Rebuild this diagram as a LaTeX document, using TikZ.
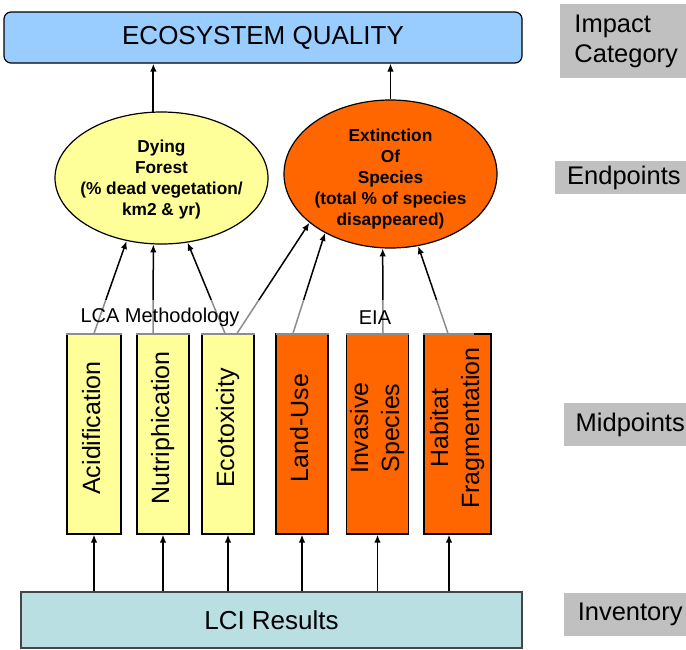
\documentclass[tikz,border=0pt]{standalone}
\usepackage{fontspec}
\setmainfont{Liberation Sans}
\usepackage{graphicx}
\usetikzlibrary{shapes.geometric,arrows.meta}

\definecolor{qualityblue}{RGB}{153,204,255}
\definecolor{paleyellow}{RGB}{255,255,153}
\definecolor{deeporange}{RGB}{255,102,0}
\definecolor{lcicyan}{RGB}{185,223,227}
\definecolor{lciedge}{RGB}{70,70,70}
\definecolor{tiergray}{RGB}{192,192,192}

\newcommand{\uptext}[1]{\rotatebox{90}{\hspace{12pt}\begin{tabular}{@{}c@{}}#1\end{tabular}}}

\begin{document}
\begin{tikzpicture}[x=1pt,y=-1pt,>={Latex[length=8pt,width=6.5pt]},
  every node/.style={inner sep=0pt},
  catbox/.style={draw,line width=1.2pt,rounded corners=7pt,fill=qualityblue,
    minimum width=518pt,minimum height=51pt,font=\fontsize{26}{30}\selectfont},
  endbubble/.style={ellipse,draw,line width=1.2pt,minimum width=213pt},
  endtext/.style={align=center,font=\fontsize{17.3}{21}\selectfont\bfseries},
  midbar/.style={draw,line width=1.2pt,minimum height=200pt,
    font=\fontsize{25}{31}\selectfont},
  stage/.style={fill=white,fill opacity=.55,text opacity=1,minimum height=35pt,
    font=\fontsize{20}{24}\selectfont},
  tier/.style={anchor=west,fill=tiergray,inner xsep=11.5pt,minimum width=132pt,
    align=left,font=\fontsize{25.5}{30}\selectfont},
  link/.style={->,line width=1.5pt}]
\useasboundingbox (0,0) rectangle (686,649);

% impact category
\node[catbox] (quality) at (263,37.5) {ECOSYSTEM QUALITY};

% endpoints
\node[endbubble,fill=paleyellow,minimum height=132pt] (forest) at (161.5,178) {};
\node[endtext] (forest-txt) at (161.5,179.5)
  {Dying\\Forest\\(\% dead vegetation/\\km2 \& yr)};
\node[endbubble,fill=deeporange,minimum height=148pt] (species) at (390.5,174) {};
\node[endtext] (species-txt) at (390.5,179.5)
  {Extinction\\Of\\Species\\(total \% of species\\disappeared)};

% midpoints
\node[midbar,fill=paleyellow,minimum width=54pt] (acid)  at (94,434)    {\uptext{Acidification}};
\node[midbar,fill=paleyellow,minimum width=52pt] (nutri) at (163,434)   {\uptext{Nutriphication}};
\node[midbar,fill=paleyellow,minimum width=52pt] (eco)   at (228,434)   {\uptext{Ecotoxicity}};
\node[midbar,fill=deeporange,minimum width=52pt] (land)  at (302,434)   {\uptext{Land-Use}};
\node[midbar,fill=deeporange,minimum width=61pt] (inv)   at (377.5,434) {\uptext{Invasive\\Species}};
\node[midbar,fill=deeporange,minimum width=67pt] (hab)   at (457.5,434) {\uptext{Habitat\\Fragmentation}};

% inventory
\node[draw=lciedge,line width=1.5pt,fill=lcicyan,minimum width=501pt,minimum height=56pt,
  font=\fontsize{26}{30}\selectfont] (lci) at (271.5,620) {LCI Results};

% side labels
\node[tier,minimum height=74pt,inner xsep=12pt] (t-impact) at (560,41) {Impact\\Category};
\node[tier,minimum height=33pt,inner xsep=12pt] (t-end) at (555,177.5) {Endpoints};
\node[tier,minimum height=43pt] (t-mid) at (564,424.5) {Midpoints};
\node[tier,minimum height=43pt] (t-inv) at (564,614.5) {Inventory};

% links
\draw[link,line width=1.9pt] (forest.97) -- (forest.97 |- quality.south);
\draw[link,line width=1.2pt] (species.north) -- (species.north |- quality.south);

\path[link]
(acid.north) edge (forest.-119)
([xshift=-10pt]nutri.north) edge (forest.-97)
([xshift=-3pt]eco.north) edge (forest.-68)
([xshift=9pt]eco.north) edge (species.-149)
([xshift=-9pt]land.north) edge (species.-138)
([xshift=5.5pt]inv.north) edge (species.-96)
([xshift=-9.5pt]hab.north) edge (species.-69)
; %end path

\foreach \m in {acid,nutri,eco,land,inv}
  \draw[link] (lci.north -| \m.south) -- (\m.south);
\coordinate (hab-foot) at ([xshift=-8.5pt]hab.south);
\draw[link] (lci.north -| hab-foot) -- (hab-foot);

% method labels over the bar tops
\node[stage,minimum width=216pt] (lca) at (160,317.5) {LCA Methodology};
\node[stage,minimum width=198pt] (eia) at (375,317.5) {EIA};
\end{tikzpicture}
\end{document}
